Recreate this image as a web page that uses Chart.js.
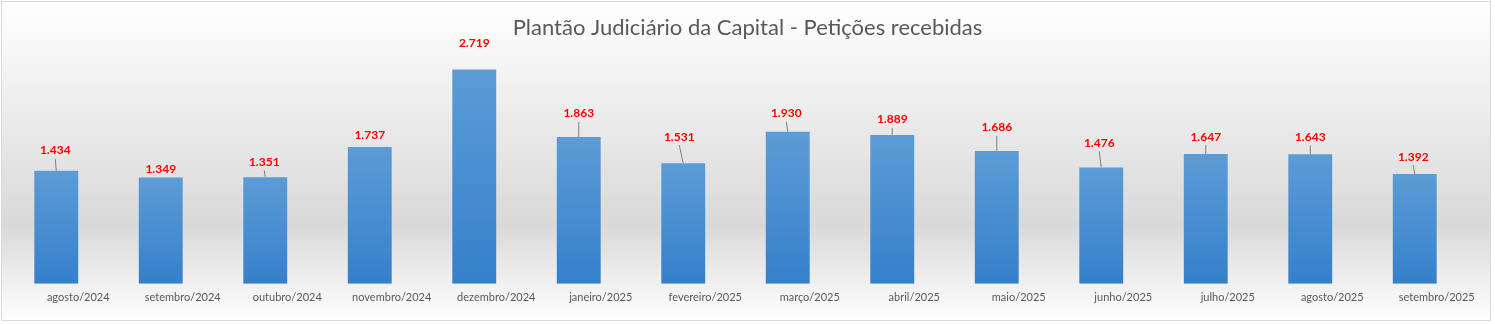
<!DOCTYPE html>
<html>
<head>
<meta charset="utf-8">
<script src="https://cdn.jsdelivr.net/npm/chart.js@4"></script>
<style>
  html, body { margin: 0; padding: 0; background: #fff; }
</style>
</head>
<body>
<canvas id="chart" width="1495" height="324"></canvas>
<script>
// Data
const months = [
  'agosto/2024', 'setembro/2024', 'outubro/2024', 'novembro/2024', 'dezembro/2024',
  'janeiro/2025', 'fevereiro/2025', 'março/2025', 'abril/2025', 'maio/2025',
  'junho/2025', 'julho/2025', 'agosto/2025', 'setembro/2025'
];
const peticoes = [1434, 1349, 1351, 1737, 2719, 1863, 1531, 1930, 1889, 1686, 1476, 1647, 1643, 1392];

// label placement tweaks (offset from bar top, in px) and whether a leader line is drawn
const labelLift = [21, 9, 16, 12, 27, 24, 27, 19, 16, 24, 25, 18, 18, 18];
const labelShiftX = [-1, 0, -1, 0, 0, 0, -4, -1.5, 0, 0, -2, 0, 0, -1.5];
const leaderLine = [true, false, true, false, false, true, true, true, true, true, true, true, true, true];

const fmt = v => v.toLocaleString('pt-BR');

// background gradient + outer border
const backgroundPlugin = {
  id: 'bg',
  afterLayout(chart) {
    // center the title on the whole canvas, not just the plot area
    if (chart.titleBlock) {
      chart.titleBlock.left = 0;
      chart.titleBlock.right = chart.width;
      chart.titleBlock.width = chart.width;
    }
  },
  beforeDraw(chart) {
    const ctx = chart.ctx;
    ctx.save();
    ctx.fillStyle = '#ffffff';
    ctx.fillRect(0, 0, chart.width, chart.height);
    const g = ctx.createLinearGradient(0, 1, 0, 321);
    g.addColorStop(0, '#ffffff');
    g.addColorStop(0.7, '#d9d9d9');
    g.addColorStop(1, '#ffffff');
    ctx.fillStyle = g;
    ctx.fillRect(1, 1, 1490, 320);
    ctx.strokeStyle = '#d9d9d9';
    ctx.lineWidth = 1;
    ctx.strokeRect(1.5, 1.5, 1489, 319);
    ctx.restore();
  }
};

// red value labels with leader lines
const valueLabels = {
  id: 'valueLabels',
  afterDatasetsDraw(chart) {
    const ctx = chart.ctx;
    const meta = chart.getDatasetMeta(0);
    ctx.save();
    meta.data.forEach((bar, i) => {
      const lx = bar.x + labelShiftX[i];
      const ly = bar.y - labelLift[i];
      if (leaderLine[i]) {
        ctx.strokeStyle = '#808080';
        ctx.lineWidth = 1;
        ctx.beginPath();
        ctx.moveTo(lx, ly + 9);
        ctx.lineTo(bar.x, bar.y);
        ctx.stroke();
      }
      ctx.fillStyle = '#ff0000';
      ctx.font = 'bold 12px Lato';
      ctx.textAlign = 'center';
      ctx.textBaseline = 'alphabetic';
      ctx.fillText(fmt(peticoes[i]), lx, ly + 4.5);
    });
    ctx.restore();
  }
};

function barGradient(context) {
  const chart = context.chart;
  if (!chart.chartArea || context.type !== 'data') return '#4a8fd2';
  const y = chart.scales.y;
  const top = y.getPixelForValue(context.raw);
  const bottom = y.getPixelForValue(0);
  const g = chart.ctx.createLinearGradient(0, top, 0, bottom);
  g.addColorStop(0, '#5c9cd6');
  g.addColorStop(1, '#3580cb');
  return g;
}

new Chart(document.getElementById('chart'), {
  type: 'bar',
  data: {
    labels: months,
    datasets: [{
      label: 'Petições recebidas',
      data: peticoes,
      backgroundColor: barGradient,
      borderWidth: 0,
      categoryPercentage: 0.42,
      barPercentage: 1
    }]
  },
  options: {
    responsive: false,
    animation: false,
    layout: { padding: { left: 4, right: 28, top: 0, bottom: 13 } },
    plugins: {
      legend: { display: false },
      tooltip: { enabled: false },
      title: {
        display: true,
        text: 'Plantão Judiciário da Capital - Petições recebidas',
        color: '#595959',
        font: { family: 'Lato', size: 22, weight: 'normal' },
        padding: { top: 15, bottom: 6 }
      }
    },
    scales: {
      x: {
        grid: { display: false, drawTicks: false },
        border: { display: false },
        ticks: {
          color: '#595959',
          font: { family: 'Lato', size: 11 },
          padding: 7,
          labelOffset: 22,
          maxRotation: 0,
          autoSkip: false
        }
      },
      y: {
        display: false,
        min: 0,
        max: 3000
      }
    }
  },
  plugins: [backgroundPlugin, valueLabels]
});
</script>
</body>
</html>
